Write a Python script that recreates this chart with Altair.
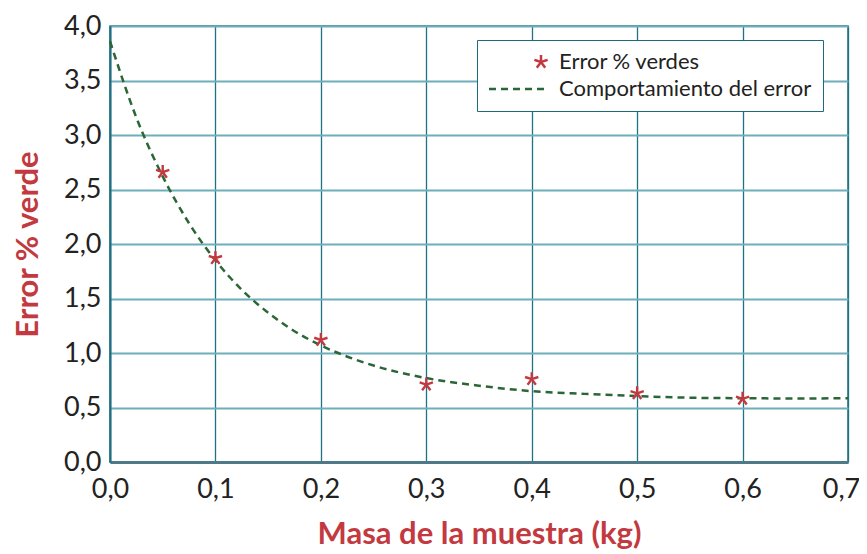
import altair as alt
import pandas as pd

# ---- data ----
masa = [0.05, 0.1, 0.2, 0.3, 0.4, 0.5, 0.6]
error_verde = [2.66, 1.87, 1.12, 0.71, 0.76, 0.63, 0.58]

curva_x = [0.0, 0.025, 0.05, 0.075, 0.1, 0.125, 0.15, 0.175, 0.2, 0.25,
           0.3, 0.35, 0.4, 0.45, 0.5, 0.55, 0.6, 0.65, 0.7]
curva_y = [3.86, 3.16, 2.62, 2.19, 1.85, 1.58, 1.37, 1.20, 1.07, 0.885,
           0.77, 0.70, 0.65, 0.625, 0.605, 0.59, 0.585, 0.583, 0.585]

x_ticks = [0.0, 0.1, 0.2, 0.3, 0.4, 0.5, 0.6, 0.7]
y_ticks = [0.0, 0.5, 1.0, 1.5, 2.0, 2.5, 3.0, 3.5, 4.0]

serie_puntos = "Error % verdes"
serie_curva = "Comportamiento del error"
series = [serie_puntos, serie_curva]
titulo_x = "Masa de la muestra (kg)"
titulo_y = "Error % verde"

# ---- styles ----
RED = "#c23a3f"
GREEN = "#2b6636"
FONT = "Lato"
STAR = "M0,0L0,-1M0,0L0.95,-0.31M0,0L0.59,0.81M0,0L-0.59,0.81M0,0L-0.95,-0.31"
LINE_LEG = "M-7.43,0L1,0"

df_p = pd.DataFrame({"masa": masa, "error": error_verde, "serie": serie_puntos})
df_c = pd.DataFrame({"masa": curva_x, "error": curva_y, "serie": serie_curva})

color_scale = alt.Scale(domain=series, range=[RED, GREEN])
shape_scale = alt.Scale(domain=series, range=[STAR, LINE_LEG])
dash_scale = alt.Scale(domain=series, range=[[1, 0], [7, 5]])
label_expr = "replace(format(datum.value, '.1f'), '.', ',')"

legend = alt.Legend(
    title=None, orient="none", legendX=367, legendY=14,
    symbolOffset=42, labelOffset=7, labelLimit=400,
)

x_enc = alt.X("masa:Q", scale=alt.Scale(domain=[0, 0.7], nice=False, zero=True),
              axis=alt.Axis(values=x_ticks, labelExpr=label_expr, title=titulo_x,
                            grid=True, gridColor="#1f7385", gridWidth=1.3,
                            domainColor="#4d7a86", domainWidth=3, ticks=False,
                            labelFlush=False, labelPadding=14, titlePadding=17,
                            labelOffset={"condition": {"test": "datum.value >= 0.69", "value": -7},
                                         "value": 0}))
y_enc = alt.Y("error:Q", scale=alt.Scale(domain=[0, 4.0], nice=False),
              axis=alt.Axis(values=y_ticks, labelExpr=label_expr, title=titulo_y,
                            grid=True, gridColor="#6fadbb", gridWidth=2,
                            domainColor="#1f6f80", domainWidth=2, ticks=False,
                            labelFlush=False, labelPadding=9, titlePadding=19))

color_enc = alt.Color("serie:N", scale=color_scale, legend=legend)

linea = alt.Chart(df_c).mark_line(
    strokeWidth=2.5, interpolate="monotone"
).encode(x=x_enc, y=y_enc, color=color_enc,
         strokeDash=alt.StrokeDash("serie:N", scale=dash_scale, legend=legend))

puntos = alt.Chart(df_p).mark_point(
    filled=False, strokeWidth=2.4, size=196, opacity=1
).encode(x=x_enc, y=y_enc, color=color_enc,
         shape=alt.Shape("serie:N", scale=shape_scale, legend=legend))

chart = alt.layer(linea, puntos).properties(
    width=738, height=436,
    autosize=alt.AutoSizeParams(type="none"),
    padding={"left": 102, "top": 18, "right": 11, "bottom": 92},
    background="white",
).configure_view(
    stroke="#1f6f80", strokeWidth=1.5
).configure_axis(
    labelFont=FONT, labelFontSize=27, labelColor="#222222",
    titleFont=FONT, titleFontSize=31, titleFontWeight="bold", titleColor=RED,
).configure_legend(
    fillColor="white", strokeColor="#1f6b7d", padding=11,
    labelFont=FONT, labelFontSize=22, labelColor="#222222",
    symbolSize=196, symbolStrokeWidth=2.5, rowPadding=5,
)

chart.save("out.html", embed_options={"renderer": "svg", "actions": False})
